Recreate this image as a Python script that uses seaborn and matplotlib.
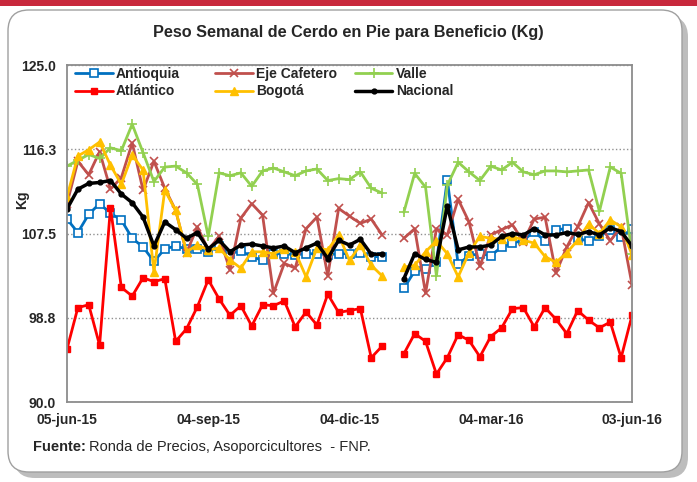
import numpy as np
import pandas as pd
import matplotlib
matplotlib.use('Agg')
import matplotlib.pyplot as plt
import seaborn as sns
from matplotlib.lines import Line2D
from matplotlib.patches import FancyBboxPatch, Rectangle

nan = np.nan

# semanas desde 05-jun-15 hasta 03-jun-16 (53 semanas, la del 01-ene-16 sin dato)
tick_labels = ['05-jun-15', '04-sep-15', '04-dic-15', '04-mar-16', '03-jun-16']
tick_weeks = [0, 13, 26, 39, 52]

antioquia = [109.0, 107.6, 109.5, 110.6, 109.6, 108.9, 107.0, 106.1, 104.6, 105.9,
             106.2, 105.9, 105.9, 105.6, 106.2, 105.4, 105.7, 105.1, 104.7, 105.4,
             105.4, 105.3, 105.4, 105.4, 105.3, 105.4, 105.4, 105.5, 105.1, 105.1,
             nan, 101.8, 103.6, 103.8, 104.5, 113.1, 104.3, 105.2, 105.4, 105.2,
             106.1, 106.5, 106.8, 107.7, 106.7, 107.9, 108.0, 107.0, 106.7, 107.2,
             107.9, 107.1, 108.0]
atlantico = [95.5, 99.8, 100.1, 95.9, 110.2, 101.9, 101.0, 102.9, 102.5, 102.8,
             96.3, 97.6, 99.9, 102.7, 100.7, 99.0, 100.0, 97.9, 100.1, 100.0,
             100.5, 97.8, 99.35, 98.0, 101.2, 99.3, 99.5, 99.7, 94.6, 95.8,
             nan, 95.0, 97.1, 96.3, 92.9, 94.6, 97.0, 96.4, 94.7, 96.8,
             97.7, 99.7, 99.8, 97.8, 99.8, 98.6, 97.1, 99.5, 98.5, 97.7,
             98.3, 94.6, 99.0]
eje_cafetero = [110.6, 115.0, 113.6, 116.0, 112.1, 113.3, 116.9, 112.0, 115.0, 112.2,
                109.9, 105.5, 108.2, 105.8, 107.2, 103.7, 109.1, 110.6, 109.4, 101.3,
                104.4, 103.9, 108.0, 109.2, 103.1, 110.1, 109.3, 108.55, 109.0, 107.35,
                nan, 107.0, 108.0, 101.3, 108.0, 107.35, 111.05, 108.7, 104.1, 107.35,
                107.9, 108.4, 106.65, 109.0, 109.2, 103.4, 106.1, 108.2, 110.7, 108.5,
                106.75, 108.2, 102.2]
valle = [114.5, 115.1, 115.7, 115.3, 116.4, 116.1, 118.85, 115.9, 112.9, 114.4,
         114.5, 113.8, 112.6, 107.2, 113.8, 113.5, 113.8, 112.4, 114.0, 114.3,
         113.9, 113.5, 114.0, 114.2, 113.0, 113.2, 113.1, 113.9, 112.2, 111.7,
         nan, 109.7, 113.75, 112.3, 103.1, 112.5, 114.9, 113.9, 113.0, 114.5,
         114.1, 114.9, 113.9, 113.6, 114.0, 114.0, 113.9, 114.0, 114.1, 109.8,
         114.4, 113.75, 105.4]
bogota = [111.3, 115.55, 116.2, 117.0, 114.6, 112.6, 115.65, 114.1, 103.5, 112.0,
          109.9, 105.6, 106.3, 105.8, 106.0, 104.75, 103.9, 105.6, 105.6, 105.4,
          105.9, 105.6, 103.0, 106.0, 105.8, 107.35, 104.7, 106.3, 104.2, 103.1,
          nan, 104.0, 104.2, 105.6, 106.75, 105.4, 103.0, 105.5, 107.2, 107.0,
          106.9, 107.2, 106.8, 106.5, 105.1, 104.5, 105.5, 106.8, 108.5, 107.5,
          108.9, 108.2, 105.3]
nacional = [110.05, 112.1, 112.7, 112.8, 113.0, 111.6, 110.7, 109.2, 106.2, 108.7,
            107.9, 107.0, 107.6, 105.9, 106.8, 105.6, 106.3, 106.4, 106.2, 106.0,
            106.2, 105.5, 106.0, 106.5, 104.9, 106.8, 106.3, 106.9, 105.35, 105.35,
            nan, 102.8, 105.4, 104.8, 104.5, 110.4, 105.8, 106.1, 106.1, 106.3,
            107.2, 107.5, 107.35, 108.0, 107.35, 107.35, 107.6, 107.4, 107.7, 107.35,
            108.1, 107.7, 106.2]

series = [
    ('Antioquia', antioquia, dict(color='#0070C0', marker='s', markersize=5.5, markerfacecolor='white',
                                  markeredgecolor='#0070C0', markeredgewidth=1.2, linewidth=2)),
    ('Atlántico', atlantico, dict(color='#FF0000', marker='s', markersize=5, markerfacecolor='#FF0000',
                                  markeredgecolor='#FF0000', markeredgewidth=1, linewidth=2)),
    ('Eje Cafetero', eje_cafetero, dict(color='#C0504D', marker='x', markersize=6, markerfacecolor='#C0504D',
                                        markeredgecolor='#C0504D', markeredgewidth=1.2, linewidth=2)),
    ('Valle', valle, dict(color='#92D050', marker='+', markersize=7, markerfacecolor='#92D050',
                          markeredgecolor='#92D050', markeredgewidth=1.2, linewidth=2)),
    ('Bogotá', bogota, dict(color='#FFC000', marker='^', markersize=6, markerfacecolor='#FFC000',
                            markeredgecolor='#FFC000', markeredgewidth=1, linewidth=2)),
    ('Nacional', nacional, dict(color='black', marker='o', markersize=3.5, markerfacecolor='black',
                                markeredgecolor='black', markeredgewidth=1, linewidth=2.5)),
]

sns.set_style('white')
plt.rcParams['font.family'] = ['Liberation Sans', 'DejaVu Sans']

fig = plt.figure(figsize=(6.97, 4.82), dpi=100)
W, H = 697, 482

# marco de fondo
fig.patches.append(Rectangle((0, 1 - 6 / H), 1, 6 / H, transform=fig.transFigure,
                             facecolor='#C8283C', edgecolor='none', zorder=-3))
fig.patches.append(FancyBboxPatch((14 / W, 4 / H), 674 / W, 462 / H, transform=fig.transFigure,
                                  boxstyle='round,pad=0,rounding_size=0.03', facecolor='#BDBDBD',
                                  edgecolor='none', zorder=-2, mutation_aspect=W / H))
fig.patches.append(FancyBboxPatch((8 / W, 10 / H), 674 / W, 462 / H, transform=fig.transFigure,
                                  boxstyle='round,pad=0,rounding_size=0.03', facecolor='white',
                                  edgecolor='#A0A0A0', linewidth=1, zorder=-1, mutation_aspect=W / H))

ax = fig.add_axes([67 / W, 1 - 402 / H, 565 / W, 337 / H])
ax.set_facecolor('none')

weeks = np.arange(53)
for name, values, style in series:
    df = pd.DataFrame({'semana': weeks, 'kg': values, 'tramo': (weeks > 30).astype(int)})
    sns.lineplot(data=df, x='semana', y='kg', units='tramo', estimator=None, ax=ax,
                 legend=False, **style)

ax.set_xlim(0, 52)
ax.set_ylim(90, 125)
yt = [90, 98.75, 107.5, 116.25, 125]
ax.set_yticks(yt)
ax.set_yticklabels(['90.0', '98.8', '107.5', '116.3', '125.0'], fontsize=10, fontweight='bold')
ax.set_xticks(tick_weeks)
ax.set_xticklabels(tick_labels, fontsize=10, fontweight='bold')
ax.set_xticks(weeks, minor=True)
ax.tick_params(axis='x', which='both', direction='out', length=5, width=1, color='#808080', pad=3)
ax.tick_params(axis='y', length=0, pad=8)
ax.set_xlabel('')
ax.set_ylabel('')
ax.yaxis.grid(True, linestyle=':', color='#909090', linewidth=1)
ax.xaxis.grid(False)
for sp in ax.spines.values():
    sp.set_color('#8C8C8C')
    sp.set_linewidth(1.3)

fig.text(348 / W, 1 - 33 / H, 'Peso Semanal de Cerdo en Pie para Beneficio (Kg)', ha='center',
         va='center', fontsize=11.7, fontweight='bold')
fig.text(22 / W, 1 - 200 / H, 'Kg', rotation=90, ha='center', va='center', fontsize=10,
         fontweight='bold')
fig.text(33 / W, 1 - 447 / H, 'Fuente:', ha='left', va='center', fontsize=10.5, fontweight='bold')
fig.text(89 / W, 1 - 447 / H, 'Ronda de Precios, Asoporcicultores  - FNP.', ha='left',
         va='center', fontsize=10.5)

# leyenda en tres columnas
cols = [(75, [series[0], series[1]]), (215, [series[2], series[4]]), (355, [series[3], series[5]])]
for i, (x0, items) in enumerate(cols):
    handles = [Line2D([], [], **st) for _, _, st in items]
    labels = [n for n, _, _ in items]
    leg = ax.legend(handles, labels, loc='upper left', bbox_to_anchor=(x0 / W, 1 - 67 / H),
                    bbox_transform=fig.transFigure, frameon=False, borderpad=0, borderaxespad=0,
                    handlelength=2.7, handletextpad=0.25, labelspacing=0.25,
                    prop={'weight': 'bold', 'size': 10})
    if i < 2:
        ax.add_artist(leg)

fig.savefig('out.png', dpi=100)
